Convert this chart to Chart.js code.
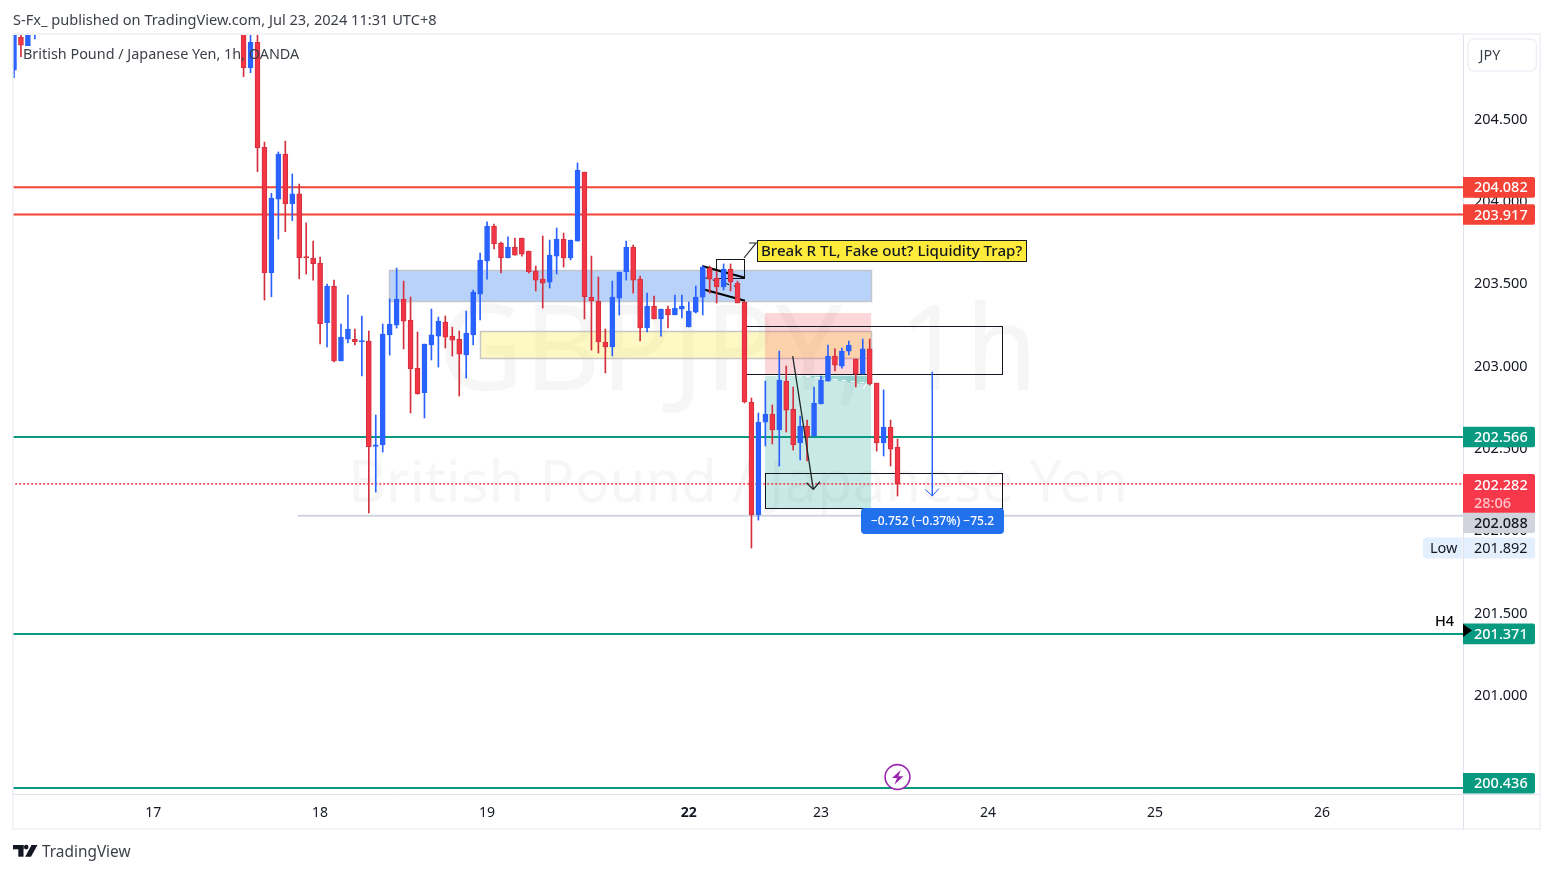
<!DOCTYPE html>
<html><head><meta charset="utf-8"><title>GBPJPY 1h</title>
<style>html,body{margin:0;padding:0;background:#fff}canvas{display:block}</style>
<script src="https://cdn.jsdelivr.net/npm/chart.js@4"></script></head>
<body><canvas id="c" width="1553" height="873"></canvas>
<script>
// one entry per hourly bar; null = bar lies above the visible range
const candleOpen=[204.794,204.993,204.942,205.06,null,null,null,null,null,null,null,null,null,null,null,null,null,null,null,null,null,null,null,null,null,null,null,null,null,null,null,null,null,
205.15,204.808,204.963,204.325,203.564,204.011,204.284,203.983,204.042,203.659,203.651,203.621,203.260,203.483,203.029,203.161,203.159,203.143,203.149,202.510,202.518,203.186,203.246,203.404,203.277,202.985,202.835,203.125,203.179,203.264,203.179,203.161,203.064,203.186,203.434,203.635,203.847,203.744,203.653,203.720,203.774,203.695,203.574,203.525,203.507,203.665,203.768,203.653,203.756,204.175,203.416,203.392,203.143,203.113,203.410,203.568,203.720,203.525,203.228,203.362,203.283,203.343,203.307,203.343,203.234,203.325,203.416,203.592,203.532,203.477,203.586,203.501,203.386,202.779,202.093,202.657,202.706,202.609,202.906,202.736,202.530,202.633,202.572,202.767,202.906,203.058,202.997,203.088,203.040,202.949,203.101,202.894,202.530,202.627,202.505];
const candleHigh=[205.15,205.06,205.10,205.14,null,null,null,null,null,null,null,null,null,null,null,null,null,null,null,null,null,null,null,null,null,null,null,null,null,null,null,null,null,
205.20,205.05,205.03,204.357,204.046,204.297,204.363,204.163,204.102,203.866,203.756,203.659,203.495,203.519,203.252,203.428,203.222,203.301,203.210,202.700,203.252,203.404,203.592,203.513,203.416,203.204,203.131,203.343,203.295,203.301,203.234,203.210,203.331,203.459,203.683,203.872,203.859,203.750,203.781,203.774,203.774,203.695,203.604,203.787,203.762,203.835,203.805,203.762,204.230,204.175,203.665,203.538,203.222,203.513,203.568,203.756,203.732,203.544,203.440,203.422,203.343,203.362,203.428,203.428,203.386,203.483,203.604,203.604,203.574,203.617,203.617,203.513,203.386,202.803,202.712,202.906,202.761,203.088,202.997,202.870,202.694,202.669,202.870,202.937,203.125,203.101,203.107,203.149,203.040,203.161,203.161,202.894,202.852,202.669,202.554];
const candleLow=[204.748,204.875,204.942,204.983,null,null,null,null,null,null,null,null,null,null,null,null,null,null,null,null,null,null,null,null,null,null,null,null,null,null,null,null,null,
204.754,204.778,204.177,203.398,203.418,203.768,203.813,203.880,203.527,203.556,203.519,203.131,203.113,203.022,203.029,203.137,203.125,202.937,202.105,202.232,202.475,203.064,203.228,203.101,202.712,202.826,202.682,203.034,202.991,203.107,203.058,202.815,202.924,203.125,203.277,203.525,203.708,203.562,203.653,203.671,203.665,203.562,203.453,203.349,203.471,203.556,203.598,203.641,203.756,203.283,203.094,203.076,202.955,203.058,203.307,203.519,203.440,203.149,203.204,203.283,203.179,203.228,203.307,203.289,203.234,203.319,203.307,203.440,203.380,203.459,203.453,203.380,202.773,201.892,202.062,202.512,202.524,202.390,202.597,202.487,202.427,202.421,202.572,202.767,202.906,202.967,202.985,203.064,202.870,202.949,202.882,202.481,202.451,202.390,202.208];
const candleClose=[205.12,204.946,205.08,205.12,null,null,null,null,null,null,null,null,null,null,null,null,null,null,null,null,null,null,null,null,null,null,null,null,null,null,null,null,null,
204.808,204.963,204.323,203.564,204.017,204.284,203.983,204.042,203.655,203.653,203.618,203.254,203.483,203.029,203.173,203.222,203.145,203.147,202.507,202.516,203.192,203.252,203.404,203.270,202.981,202.829,203.131,203.186,203.270,203.173,203.155,203.070,203.198,203.447,203.641,203.847,203.738,203.653,203.720,203.671,203.677,203.568,203.519,203.501,203.671,203.768,203.653,203.762,204.187,203.418,203.392,203.143,203.113,203.416,203.568,203.720,203.519,203.228,203.362,203.283,203.343,203.307,203.349,203.362,203.331,203.416,203.598,203.525,203.477,203.586,203.507,203.380,202.779,202.093,202.657,202.706,202.609,202.912,202.730,202.518,202.633,202.566,202.773,202.912,203.058,203.003,203.088,203.125,202.949,203.101,202.888,202.530,202.627,202.493,202.282];

const dayTickIndex=[20,44,68,97,116,140,164,188];
const dayTickLabel=['17','18','19','22','23','24','25','26'];
const priceTicks=[204.5,204,203.5,203,202.5,202,201.5,201,200.5];

const redLevels=[204.082,203.917];
const greenLevels=[202.566,201.371,200.436];
const lowGreyLevel=202.088, lastPrice=202.282, sessionLow=201.892;

// [fromBar,toBar,topPrice,bottomPrice]
const supplyZone=[53.9,123.2,203.580,203.392];
const demandZone=[66.98,123.2,203.210,203.046];
const stopZone=[107.95,123.2,203.319,202.943];
const targetZone=[107.95,123.2,202.943,202.129];
const upperBox=[105,142,203.242,202.951];
const lowerBox=[107.95,142,202.346,202.133];
const noteBox=[100.9,105,203.645,203.533];
// [[bar,price],[bar,price]]
const channelTop=[[98.9,203.604],[105.07,203.533]];
const channelBottom=[[98.9,203.465],[105.07,203.394]];
const channelMid=[[98.9,203.538],[104.93,203.467]];
const blackArrow=[[111.93,203.058],[114.9,202.249]];
const blueArrow=[[132,202.962],[132,202.208]];

const FONT='"Noto Sans"';
const UP='#2962ff', DOWN='#f23645', DOWN_EDGE='#d32f3c';
const isUp=i=>candleClose[i]>=candleOpen[i];
const bars=candleOpen.map((o,i)=>i).filter(i=>candleOpen[i]!==null);
const pts=a=>a.map(p=>({x:p[0],y:p[1]}));
const level=(v,from)=>[{x:from,y:v},{x:300,y:v}];

const overlay={id:'overlay',
 beforeDatasetsDraw(chart){
  const {ctx,scales:{x,y}}=chart, A=chart.chartArea;
  ctx.save();
  ctx.beginPath();ctx.rect(A.left,A.top,A.right-A.left,A.bottom-A.top);ctx.clip();
  // watermark
  ctx.fillStyle='rgba(19,23,34,0.04)';ctx.textAlign='center';ctx.textBaseline='middle';
  ctx.font='118px '+FONT;ctx.fillText('GBPJPY, 1h',738,356);
  ctx.font='58px '+FONT;ctx.fillText('British Pound / Japanese Yen',738,485);
  const rect=(z,fill,stroke)=>{
   const x0=x.getPixelForValue(z[0]),x1=x.getPixelForValue(z[1]),y0=y.getPixelForValue(z[2]),y1=y.getPixelForValue(z[3]);
   ctx.fillStyle=fill;ctx.fillRect(x0,y0,x1-x0,y1-y0);
   if(stroke){ctx.strokeStyle=stroke;ctx.lineWidth=1.5;ctx.strokeRect(Math.round(x0)+.5,Math.round(y0)+.5,Math.round(x1-x0),Math.round(y1-y0));}
  };
  rect(supplyZone,'rgba(41,118,240,0.33)','#c3c6cc');
  rect(demandZone,'rgba(252,238,110,0.4)','#c6c6c2');
  rect(stopZone,'rgba(242,54,69,0.2)');
  rect(targetZone,'rgba(0,150,136,0.21)');
  // outlined boxes sit beneath the candles
  ctx.strokeStyle='#131722';ctx.lineWidth=1;
  for(const z of [upperBox,lowerBox,noteBox]){
   const x0=Math.round(x.getPixelForValue(z[0]))+.5,x1=Math.round(x.getPixelForValue(z[1]))+.5,y0=Math.round(y.getPixelForValue(z[2]))+.5,y1=Math.round(y.getPixelForValue(z[3]))+.5;
   ctx.strokeRect(x0,y0,x1-x0,y1-y0);
  }
  // entry line of the position
  const ey=Math.round(y.getPixelForValue(202.943))+.5;
  ctx.strokeStyle='#fff';ctx.lineWidth=1.2;ctx.beginPath();
  ctx.moveTo(x.getPixelForValue(stopZone[0]),ey);ctx.lineTo(x.getPixelForValue(stopZone[1]),ey);ctx.stroke();
  // filled part of the open position
  ctx.fillStyle='rgba(0,150,136,0.24)';
  ctx.beginPath();
  ctx.moveTo(x.getPixelForValue(112.55),y.getPixelForValue(202.94));
  ctx.lineTo(x.getPixelForValue(123.2),y.getPixelForValue(202.94));
  ctx.lineTo(x.getPixelForValue(123.2),y.getPixelForValue(202.88));
  ctx.closePath();ctx.fill();
  ctx.strokeStyle='rgba(255,255,255,0.9)';ctx.setLineDash([5,4]);ctx.lineWidth=1.2;
  ctx.beginPath();
  ctx.moveTo(x.getPixelForValue(112.55),y.getPixelForValue(202.94));
  ctx.lineTo(x.getPixelForValue(122.6),y.getPixelForValue(202.894));
  ctx.stroke();ctx.setLineDash([]);
  ctx.beginPath();
  ctx.moveTo(x.getPixelForValue(122.1),y.getPixelForValue(202.86));
  ctx.lineTo(x.getPixelForValue(123),y.getPixelForValue(202.925));
  ctx.stroke();
  ctx.restore();
 },
 afterDatasetsDraw(chart){
  const {ctx,scales:{x,y}}=chart;
  ctx.save();
  // arrow heads
  const head=(p,col,w)=>{const tx=x.getPixelForValue(p[0]),ty=y.getPixelForValue(p[1]);
   ctx.strokeStyle=col;ctx.lineWidth=w;ctx.beginPath();ctx.moveTo(tx-7,ty-6.5);ctx.lineTo(tx,ty);ctx.lineTo(tx+6.5,ty-7.5);ctx.stroke();};
  head(blackArrow[1],'#1f2a2a',1.3);
  head(blueArrow[1],'#2962ff',1);
  // callout
  ctx.strokeStyle='#222';ctx.lineWidth=1.2;ctx.beginPath();ctx.moveTo(744,258);ctx.lineTo(756,243);ctx.lineTo(749,243);ctx.stroke();
  ctx.lineWidth=1;
  ctx.fillStyle='#ffeb3b';ctx.fillRect(757.5,240.5,269,21);ctx.strokeStyle='#131722';ctx.strokeRect(757.5,240.5,269,21);
  ctx.fillStyle='#131722';ctx.font='500 15.1px '+FONT;ctx.textAlign='left';ctx.textBaseline='middle';
  ctx.fillText('Break R TL, Fake out? Liquidity Trap?',761,251.5);
  // measure pill
  ctx.fillStyle='#2271ec';ctx.beginPath();ctx.roundRect(861,508,143,26,4);ctx.fill();
  ctx.fillStyle='#fff';ctx.font='500 12px '+FONT;ctx.textAlign='center';
  ctx.fillText('\u22120.752 (\u22120.37%) \u221275.2',932.5,522);
  // lightning marker
  ctx.strokeStyle='#9c27b0';ctx.lineWidth=1.6;ctx.fillStyle='#fff';ctx.beginPath();ctx.arc(897.5,777,12.4,0,Math.PI*2);ctx.fill();ctx.stroke();
  ctx.fillStyle='#9c27b0';ctx.beginPath();
  ctx.moveTo(900.7,770);ctx.lineTo(892,778);ctx.lineTo(897,778);ctx.lineTo(894.5,784.5);ctx.lineTo(903.5,776.2);ctx.lineTo(898.5,776.2);ctx.closePath();ctx.fill();
  // frame
  ctx.strokeStyle='#eef0f6';ctx.lineWidth=1.6;ctx.strokeRect(12.8,34,1527.4,795);
  ctx.strokeStyle='#e0e3eb';ctx.lineWidth=1;
  ctx.beginPath();ctx.moveTo(13,794.5);ctx.lineTo(1539,794.5);ctx.moveTo(1463.5,35);ctx.lineTo(1463.5,829);ctx.stroke();
  // legend line
  ctx.fillStyle='#3b3f47';ctx.font='14.4px '+FONT;ctx.textAlign='left';ctx.textBaseline='middle';
  ctx.fillText('British Pound / Japanese Yen, 1h, OANDA',23,55);
  // header & branding
  ctx.font='14.6px '+FONT;
  ctx.fillStyle='#3b3f47';ctx.fillText('S-Fx_ published on TradingView.com, Jul 23, 2024 11:31 UTC+8',13,20.5);
  ctx.fillStyle='#131722';
  ctx.fillRect(13,845,10.5,4.3);ctx.fillRect(18.3,845,5.2,11.7);
  ctx.beginPath();ctx.arc(26.2,847.1,2.3,0,Math.PI*2);ctx.fill();
  ctx.beginPath();ctx.moveTo(31.5,845);ctx.lineTo(37.5,845);ctx.lineTo(31,856.7);ctx.lineTo(25.2,856.7);ctx.closePath();ctx.fill();
  ctx.fillStyle='#3b3f47';ctx.font='15.4px '+FONT;ctx.fillText('TradingView',42,852.5);
  // JPY button
  ctx.strokeStyle='#eef0f6';ctx.lineWidth=1.5;ctx.beginPath();ctx.roundRect(1468,39,68.5,32,6);ctx.stroke();
  ctx.fillStyle='#3b3f47';ctx.font='14.4px '+FONT;ctx.fillText('JPY',1479.5,56);
  // price tags
  const tag=(cy,txt,bg,fg,h)=>{h=h||20.6;ctx.fillStyle=bg;ctx.beginPath();ctx.roundRect(1463,cy-h/2,72,h,[0,2,2,0]);ctx.fill();
   ctx.fillStyle=fg;ctx.font='500 14.5px '+FONT;ctx.fillText(txt,1474,cy+1);};
  for(const v of redLevels)tag(y.getPixelForValue(v),v.toFixed(3),'#f44336','#fff');
  tag(y.getPixelForValue(greenLevels[0]),greenLevels[0].toFixed(3),'#089981','#fff');
  tag(y.getPixelForValue(greenLevels[1]),greenLevels[1].toFixed(3),'#089981','#fff');
  tag(783.3,greenLevels[2].toFixed(3),'#089981','#fff');
  // grey line tag, pushed down under the countdown
  tag(522.7,lowGreyLevel.toFixed(3),'#d1d4dc','#131722');
  // last price + countdown
  ctx.fillStyle='#f7374a';ctx.beginPath();ctx.roundRect(1463,474,72,38.7,[0,2,0,0]);ctx.fill();
  ctx.fillStyle='#fff';ctx.font='500 14.5px '+FONT;ctx.fillText(lastPrice.toFixed(3),1474,485.5);
  ctx.fillStyle='#ffc4ca';ctx.fillText('28:06',1474,503.5);
  // session low
  const ly=y.getPixelForValue(sessionLow);
  ctx.fillStyle='#e3effd';ctx.beginPath();ctx.roundRect(1423,ly-10.5,39.5,21,[2,0,0,2]);ctx.fill();
  ctx.beginPath();ctx.roundRect(1464,ly-10.5,71,21,[0,2,2,0]);ctx.fill();
  ctx.fillStyle='#131722';ctx.font='14.5px '+FONT;ctx.fillText('Low',1430,ly+1);ctx.fillText(sessionLow.toFixed(3),1474,ly+1);
  // H4 flag
  const hy=y.getPixelForValue(greenLevels[1]);
  ctx.fillStyle='#000';ctx.font='500 14.5px '+FONT;ctx.fillText('H4',1435,hy-12.5);
  ctx.beginPath();ctx.moveTo(1463,hy-9.8);ctx.lineTo(1472,hy-3.5);ctx.lineTo(1463,hy+3);ctx.closePath();ctx.fill();
  ctx.restore();
 }
};

const line=(data,color,w,order,extra)=>Object.assign({type:'line',data,borderColor:color,borderWidth:w,pointRadius:0,fill:false,order,tension:0},extra||{});

new Chart(document.getElementById('c'),{
 type:'bar',
 data:{datasets:[
  ...redLevels.map(v=>line(level(v,-5),'#f44336',2,10)),
  ...greenLevels.map(v=>line(level(v,-5),'#089981',2,10)),
  line(level(lowGreyLevel,40.8),'#d1d4dc',2,10),
  line(level(lastPrice,-5),'#f23645',1.5,10,{borderDash:[2,2]}),
  line(pts(channelTop),'#000',2.2,6),
  line(pts(channelBottom),'#000',2.2,6),
  line(pts(channelMid),'#000',1,6,{borderDash:[6,5]}),
  {label:'wick',data:bars.map(i=>({x:i,y:[candleLow[i],candleHigh[i]]})),
   backgroundColor:bars.map(i=>isUp(i)?UP:DOWN_EDGE),barThickness:1,grouped:false,order:5,minBarLength:1,borderWidth:0},
  {label:'body',data:bars.map(i=>({x:i,y:[candleOpen[i],candleClose[i]]})),
   backgroundColor:bars.map(i=>isUp(i)?UP:DOWN),borderColor:bars.map(i=>isUp(i)?UP:DOWN_EDGE),borderWidth:1,borderSkipped:false,
   barThickness:5,grouped:false,order:4,minBarLength:1.5},
  line(pts(blackArrow),'#1f2a2a',1.3,-1),
  line(pts(blueArrow),'#2962ff',1,-1)
 ]},
 options:{
  responsive:false,animation:false,devicePixelRatio:1,
  layout:{padding:{left:13,top:35,right:0,bottom:0}},
  plugins:{legend:{display:false},tooltip:{enabled:false},title:{display:false}},
  events:[],
  scales:{
   x:{type:'linear',offset:false,min:-0.1437,max:208.28,
    grid:{display:false,drawTicks:false},border:{display:false},
    afterFit(s){s.height=78;},
    afterBuildTicks(s){s.ticks=dayTickIndex.map(v=>({value:v}));},
    ticks:{autoSkip:false,maxRotation:0,minRotation:0,padding:10,color:'#131722',
     font:c=>({family:FONT,size:14,weight:c.tick&&c.tick.value===97?'bold':'normal'}),
     callback:v=>dayTickLabel[dayTickIndex.indexOf(v)]||''}},
   y:{type:'linear',position:'right',min:200.393,max:205.007,
    grid:{display:false,drawTicks:false},border:{display:false},
    afterFit(s){s.width=90;},
    afterBuildTicks(s){s.ticks=priceTicks.map(v=>({value:v}));},
    ticks:{autoSkip:false,padding:11,color:'#131722',font:{family:FONT,size:14.5},crossAlign:'near',labelOffset:1,
     callback:v=>Number(v).toFixed(3)}}
  }
 },
 plugins:[overlay]
});
</script></body></html>
